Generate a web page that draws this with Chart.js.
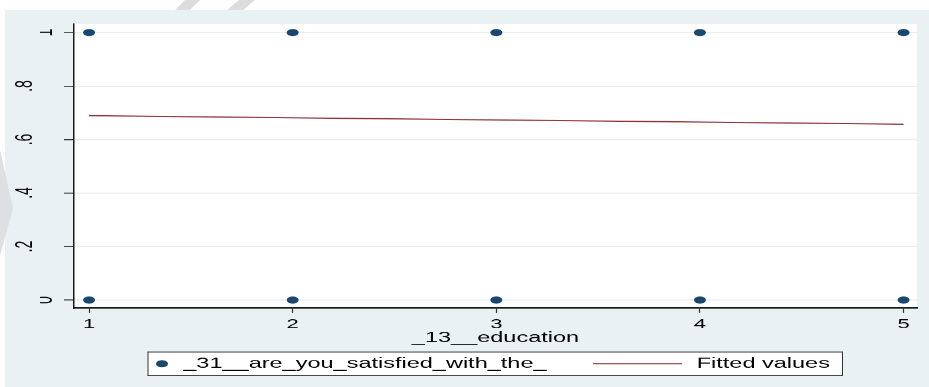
<!DOCTYPE html>
<html>
<head>
<meta charset="utf-8">
<script src="https://cdn.jsdelivr.net/npm/chart.js@4/dist/chart.umd.min.js"></script>
<style>
  html, body { margin: 0; padding: 0; background: #ffffff; }
  #chart { display: block; width: 929px; height: 387px; }
</style>
</head>
<body>
<canvas id="chart" width="929" height="645" style="width:929px;height:387px;"></canvas>
<script>
// ---- data ----
const educationLevels = [1, 2, 3, 4, 5];
const obsEducation = [1, 1, 2, 2, 3, 3, 4, 4, 5, 5];
const obsSatisfied = [0, 1, 0, 1, 0, 1, 0, 1, 0, 1];
const fittedEducation = [1, 5];
const fittedValues = [0.689, 0.657];
const yTickValues = [0, 0.2, 0.4, 0.6, 0.8, 1];
const yTickLabels = ['0', '.2', '.4', '.6', '.8', '1'];
const seriesNames = ['_31__are_you_satisfied_with_the_', 'Fitted values'];
const xAxisTitle = '_13__education';

// The canvas is drawn 645 units tall and shown 387px tall (vertical factor 0.6).
const SY = 0.6;
const vy = (v) => v / SY;

const NAVY = '#1a476f';
const MAROON = '#90353b';
const REGION_BG = '#eaf1f3';
const FONT = "'Liberation Sans', Arial, Helvetica, sans-serif";

Chart.defaults.font.family = FONT;
Chart.defaults.color = '#000000';

const yMin = -0.0299, yMax = 1.0318;
const xMin = 0.926, xMax = 5.066;
const xAxisBottom = 577.6;

const labelFor = (v) => {
  const i = yTickValues.findIndex(t => Math.abs(t - v) < 1e-9);
  return i >= 0 ? yTickLabels[i] : '';
};
const isWhole = (v) => Math.abs(v - Math.round(v)) < 1e-9;

const setYTicks = (scale) => { scale.ticks = yTickValues.map(v => ({ value: v })); };

// Graph region, plot region and faint marks behind the chart
const backgroundPlugin = {
  id: 'regions',
  beforeDraw(chart) {
    const { ctx, chartArea } = chart;
    ctx.save();
    ctx.fillStyle = '#ffffff';
    ctx.fillRect(0, 0, chart.width, chart.height);
    ctx.fillStyle = REGION_BG;
    ctx.fillRect(5, vy(10), chart.width - 5, chart.height - vy(10));

    const poly = (pts) => {
      ctx.beginPath();
      pts.forEach(([x, y], i) => (i ? ctx.lineTo(x, vy(y)) : ctx.moveTo(x, vy(y))));
      ctx.closePath();
      ctx.fill();
    };
    ctx.fillStyle = '#dcdcdc';
    poly([[175, 10], [190, 10], [200, 0], [185, 0]]);
    poly([[227, 10], [243, 10], [255, 0], [239, 0]]);
    ctx.fillStyle = '#dde0e1';
    poly([[0, 150], [13, 208], [0, 256]]);

    ctx.fillStyle = '#ffffff';
    ctx.fillRect(chartArea.left, chartArea.top,
                 chartArea.right - chartArea.left, chartArea.bottom - chartArea.top);
    ctx.restore();
  }
};

// Boxed legend below the axis title
const boxLegendPlugin = {
  id: 'boxLegend',
  afterDraw(chart) {
    const { ctx } = chart;
    const ds = chart.data.datasets;
    const x0 = 147.5, x1 = 843, y0 = vy(351.5), y1 = vy(376);
    const cy = (y0 + y1) / 2;
    ctx.save();
    ctx.fillStyle = '#ffffff';
    ctx.fillRect(x0, y0, x1 - x0, y1 - y0);
    ctx.fillStyle = '#333333';
    ctx.fillRect(x0, y0, x1 - x0, 1 / SY);
    ctx.fillRect(x0, y1 - 1 / SY, x1 - x0, 1 / SY);
    ctx.fillRect(x0, y0, 1, y1 - y0);
    ctx.fillRect(x1 - 1, y0, 1, y1 - y0);

    ctx.fillStyle = ds[0].backgroundColor;
    ctx.beginPath();
    ctx.arc(162, cy, ds[0].pointRadius, 0, Math.PI * 2);
    ctx.fill();

    ctx.strokeStyle = ds[1].borderColor;
    ctx.lineWidth = ds[1].borderWidth;
    ctx.beginPath();
    ctx.moveTo(593, cy);
    ctx.lineTo(682, cy);
    ctx.stroke();

    ctx.fillStyle = '#000000';
    ctx.font = '23.5px ' + FONT;
    ctx.textBaseline = 'middle';
    ctx.textAlign = 'left';
    ctx.fillText(ds[0].label, 183.3, cy);
    ctx.fillText(ds[1].label, 696.7, cy);
    ctx.restore();
  }
};

new Chart(document.getElementById('chart'), {
  type: 'scatter',
  data: {
    datasets: [
      {
        label: seriesNames[0],
        data: obsEducation.map((x, i) => ({ x, y: obsSatisfied[i] })),
        backgroundColor: NAVY,
        borderColor: NAVY,
        borderWidth: 0,
        pointRadius: 6,
        pointStyle: 'circle',
        order: 1
      },
      {
        label: seriesNames[1],
        type: 'line',
        data: fittedEducation.map((x, i) => ({ x, y: fittedValues[i] })),
        borderColor: MAROON,
        backgroundColor: MAROON,
        borderWidth: 2,
        pointRadius: 0,
        fill: false,
        tension: 0,
        order: 0
      }
    ]
  },
  options: {
    responsive: false,
    animation: false,
    devicePixelRatio: 1,
    layout: { padding: { top: vy(24), right: 929 - 917, bottom: 645 - xAxisBottom, left: 0 } },
    plugins: { legend: { display: false }, tooltip: { enabled: false } },
    scales: {
      x: {
        type: 'linear',
        position: 'bottom',
        min: xMin,
        max: xMax,
        afterBuildTicks: (s) => { s.ticks = educationLevels.map(v => ({ value: v })); },
        afterFit: (s) => { s.height = xAxisBottom - vy(308); },
        ticks: {
          color: '#000000',
          font: { size: 22 },
          padding: 5.6,
          maxRotation: 0,
          autoSkip: false,
          callback: (v) => String(v)
        },
        grid: {
          drawOnChartArea: false,
          drawTicks: true,
          tickLength: vy(5),
          tickColor: '#333333',
          tickWidth: 1.2
        },
        border: { display: true, color: '#1a1a1a', width: 2.5 },
        title: {
          display: true,
          text: xAxisTitle,
          color: '#000000',
          font: { size: 23.5 },
          padding: 0
        }
      },
      y: {
        type: 'linear',
        position: 'left',
        weight: 0,
        min: yMin,
        max: yMax,
        afterBuildTicks: setYTicks,
        afterFit: (s) => { s.width = 34; },
        ticks: {
          color: '#000000',
          font: { size: 23 },
          minRotation: 90,
          maxRotation: 90,
          crossAlign: 'center',
          padding: 11.6,
          autoSkip: false,
          callback: (v) => (isWhole(v) ? labelFor(v) : '')
        },
        grid: {
          color: '#e4edf0',
          lineWidth: 1 / SY,
          drawTicks: true,
          tickLength: 10,
          tickColor: '#333333',
          tickWidth: 1 / SY
        },
        border: { display: true, color: '#1a1a1a', width: 1.5 }
      },
      yLabels: {
        type: 'linear',
        position: 'left',
        weight: 1,
        min: yMin,
        max: yMax,
        afterBuildTicks: setYTicks,
        afterFit: (s) => { s.width = 40; },
        ticks: {
          color: '#000000',
          font: { size: 23 },
          minRotation: 90,
          maxRotation: 90,
          crossAlign: 'center',
          padding: 4.4,
          autoSkip: false,
          callback: (v) => (isWhole(v) ? '' : labelFor(v))
        },
        grid: { display: false, drawOnChartArea: false, drawTicks: false, tickLength: 0 },
        border: { display: false }
      }
    }
  },
  plugins: [backgroundPlugin, boxLegendPlugin]
});
</script>
</body>
</html>
